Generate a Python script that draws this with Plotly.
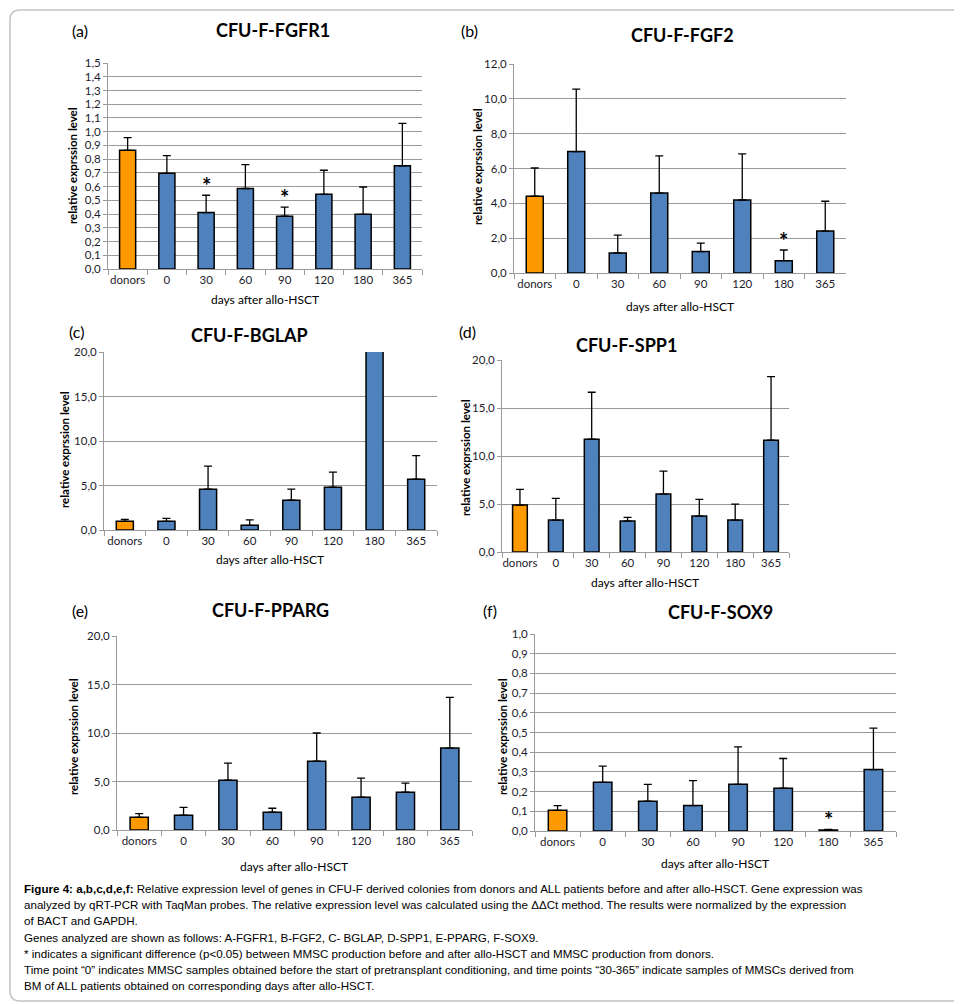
import plotly.graph_objects as go

VIEW_W, VIEW_H = 962, 1004
OFF = 8  # page body margin
W, H = VIEW_W - OFF, VIEW_H - OFF

categories = ["donors", "0", "30", "60", "90", "120", "180", "365"]

fgfr1_mean = [0.864, 0.697, 0.411, 0.586, 0.385, 0.544, 0.398, 0.752]
fgfr1_top = [0.956, 0.825, 0.537, 0.760, 0.450, 0.719, 0.597, 1.061]
fgf2_mean = [4.41, 6.97, 1.15, 4.59, 1.23, 4.19, 0.71, 2.41]
fgf2_top = [6.03, 10.56, 2.18, 6.72, 1.72, 6.84, 1.32, 4.12]
bglap_mean = [0.98, 0.98, 4.59, 0.53, 3.35, 4.81, 26.0, 5.71]
bglap_top = [1.20, 1.30, 7.18, 1.13, 4.59, 6.50, 26.0, 8.35]
spp1_mean = [4.89, 3.33, 11.75, 3.22, 6.03, 3.74, 3.33, 11.65]
spp1_top = [6.52, 5.58, 16.64, 3.60, 8.42, 5.48, 4.99, 18.27]
pparg_mean = [1.31, 1.52, 5.14, 1.83, 7.10, 3.38, 3.90, 8.45]
pparg_top = [1.69, 2.34, 6.90, 2.24, 10.00, 5.34, 4.83, 13.68]
sox9_mean = [0.105, 0.247, 0.151, 0.129, 0.237, 0.217, 0.005, 0.312]
sox9_top = [0.129, 0.329, 0.237, 0.256, 0.427, 0.368, 0.008, 0.522]

titles = ["CFU-F-FGFR1", "CFU-F-FGF2", "CFU-F-BGLAP", "CFU-F-SPP1", "CFU-F-PPARG", "CFU-F-SOX9"]
panel_labels = ["(a)", "(b)", "(c)", "(d)", "(e)", "(f)"]
y_max = [1.5, 12.0, 20.0, 20.0, 20.0, 1.0]
y_step = [0.1, 2.0, 5.0, 5.0, 5.0, 0.1]
y_title = "relative exprssion level"
x_title = "days after allo-HSCT"

# significance stars: (panel index, category, y of the error-bar top it sits above)
stars = [(0, "30", 0.537), (0, "90", 0.450), (1, "180", 1.32), (5, "180", 0.008)]

caption_lines = [
    "<b>Figure 4: a,b,c,d,e,f:</b> Relative expression level of genes in CFU-F derived colonies from donors and ALL patients before and after allo-HSCT. Gene expression was",
    "analyzed by qRT-PCR with TaqMan probes. The relative expression level was calculated using the \u0394\u0394Ct method. The results were normalized by the expression",
    "of BACT and GAPDH.",
    "Genes analyzed are shown as follows: A-FGFR1, B-FGF2, C- BGLAP, D-SPP1, E-PPARG, F-SOX9.",
    "* indicates a significant difference (p<0.05) between MMSC production before and after allo-HSCT and MMSC production from donors.",
    "Time point \u201c0\u201d indicates MMSC samples obtained before the start of pretransplant conditioning, and time points \u201c30-365\u201d indicate samples of MMSCs derived from",
    "BM of ALL patients obtained on corresponding days after allo-HSCT.",
]

means = [fgfr1_mean, fgf2_mean, bglap_mean, spp1_mean, pparg_mean, sox9_mean]
tops = [fgfr1_top, fgf2_top, bglap_top, spp1_top, pparg_top, sox9_top]

# layout (pixel boxes in screen coordinates): x0, x1, ytop, ybottom
boxes = [
    (108, 422, 63, 269),
    (514, 846, 64, 273),
    (104, 437, 352, 530),
    (502, 789, 360, 552),
    (117, 472, 636, 830),
    (535, 896, 634, 831),
]
title_pos = [(273, 30), (682, 35), (250, 335), (626, 345), (270, 610), (720, 612)]
label_pos = [(80, 31), (469, 31), (76, 331), (467, 331), (80, 610), (490, 610)]
ytitle_pos = [(73, 166), (477, 167), (65, 450), (465, 458), (73, 737), (502, 737)]
xtitle_pos = [(265, 299), (680, 307), (270, 559), (645, 582), (294, 866), (715, 863)]

FONT = "Lato, Carlito, Calibri, sans-serif"
CAP_FONT = "Liberation Sans Narrow, Arial Narrow, Liberation Sans, Arial, sans-serif"
ORANGE = "#FF9900"
BLUE = "#4F81BD"
GRID = "#9a9a9a"


def fx(px):
    return (px - OFF) / W


def fy(py):
    return 1 - (py - OFF) / H


fig = go.Figure()
annotations = []

for i in range(6):
    sfx = "" if i == 0 else str(i + 1)
    xa, ya = "x" + sfx, "y" + sfx
    colors = [ORANGE] + [BLUE] * (len(categories) - 1)
    plus = [t - m for t, m in zip(tops[i], means[i])]
    fig.add_trace(go.Bar(
        x=categories, y=means[i], xaxis=xa, yaxis=ya,
        marker=dict(color=colors, line=dict(color="black", width=1.5)),
        error_y=dict(type="data", symmetric=False, array=plus,
                     arrayminus=[0] * len(plus), color="black",
                     thickness=1.3, width=4),
        showlegend=False, hoverinfo="skip",
    ))
    x0, x1, yt, yb = boxes[i]
    fig.layout["xaxis" + sfx] = dict(
        domain=[fx(x0), fx(x1)], anchor=ya, type="category",
        range=[-0.5, len(categories) - 0.5], automargin=False,
        showline=True, linecolor=GRID, linewidth=1,
        ticks="outside", tickson="boundaries", ticklen=5, tickcolor=GRID,
        tickangle=0,
        tickfont=dict(family=FONT, size=11.5, color="#1c1c2c"),
        showgrid=False, fixedrange=True,
    )
    fig.layout["yaxis" + sfx] = dict(
        domain=[fy(yb), fy(yt)], anchor=xa, automargin=False,
        range=[0, y_max[i]], dtick=y_step[i], tick0=0, tickformat=".1f",
        showline=True, linecolor=GRID, linewidth=1,
        ticks="outside", ticklen=4, tickcolor=GRID,
        showgrid=True, gridcolor=GRID, gridwidth=1,
        zeroline=False,
        tickfont=dict(family=FONT, size=11.5, color="#1c1c2c"),
        fixedrange=True,
    )
    tx, ty = title_pos[i]
    annotations.append(dict(x=fx(tx), y=fy(ty), xref="paper", yref="paper",
                            text="<b>" + titles[i] + "</b>", showarrow=False,
                            xanchor="center", yanchor="middle",
                            font=dict(family=FONT, size=18, color="black")))
    lx, ly = label_pos[i]
    annotations.append(dict(x=fx(lx), y=fy(ly), xref="paper", yref="paper",
                            text=panel_labels[i], showarrow=False,
                            xanchor="center", yanchor="middle",
                            font=dict(family=FONT, size=16, color="black")))
    yx, yy = ytitle_pos[i]
    annotations.append(dict(x=fx(yx), y=fy(yy), xref="paper", yref="paper",
                            text="<b>" + y_title + "</b>", showarrow=False,
                            textangle=-90, xanchor="center", yanchor="middle",
                            font=dict(family=FONT, size=11.5, color="black")))
    xx, xy = xtitle_pos[i]
    annotations.append(dict(x=fx(xx), y=fy(xy), xref="paper", yref="paper",
                            text=x_title, showarrow=False,
                            xanchor="center", yanchor="middle",
                            font=dict(family=FONT, size=12, color="black")))

for (p, cat, yv) in stars:
    sfx = "" if p == 0 else str(p + 1)
    annotations.append(dict(x=categories.index(cat), y=yv,
                            xref="x" + sfx, yref="y" + sfx,
                            text="<b>*</b>", showarrow=False,
                            xanchor="center", yanchor="bottom", yshift=-6,
                            font=dict(family=FONT, size=22, color="black")))

cap_y = [888, 904, 920, 937, 953, 969, 985]
for line, py in zip(caption_lines, cap_y):
    annotations.append(dict(x=fx(22), y=fy(py), xref="paper", yref="paper",
                            text=line, showarrow=False,
                            xanchor="left", yanchor="middle", align="left",
                            font=dict(family=CAP_FONT, size=11.6, color="black")))

# rounded frame around the figure
frame = (f"M {fx(962)},{fy(10)} L {fx(20)},{fy(10)} Q {fx(10)},{fy(10)} {fx(10)},{fy(20)} "
         f"L {fx(10)},{fy(991)} Q {fx(10)},{fy(1001)} {fx(20)},{fy(1001)} L {fx(962)},{fy(1001)}")

fig.update_layout(
    width=W, height=H,
    margin=dict(l=0, r=0, t=0, b=0, autoexpand=False),
    paper_bgcolor="white", plot_bgcolor="white",
    separators=", ",
    bargap=0.59,
    annotations=annotations,
    shapes=[dict(type="path", path=frame, xref="paper", yref="paper",
                 line=dict(color="#c4c4c4", width=1.5))],
    font=dict(family=FONT),
)

fig.write_html("out.html")
